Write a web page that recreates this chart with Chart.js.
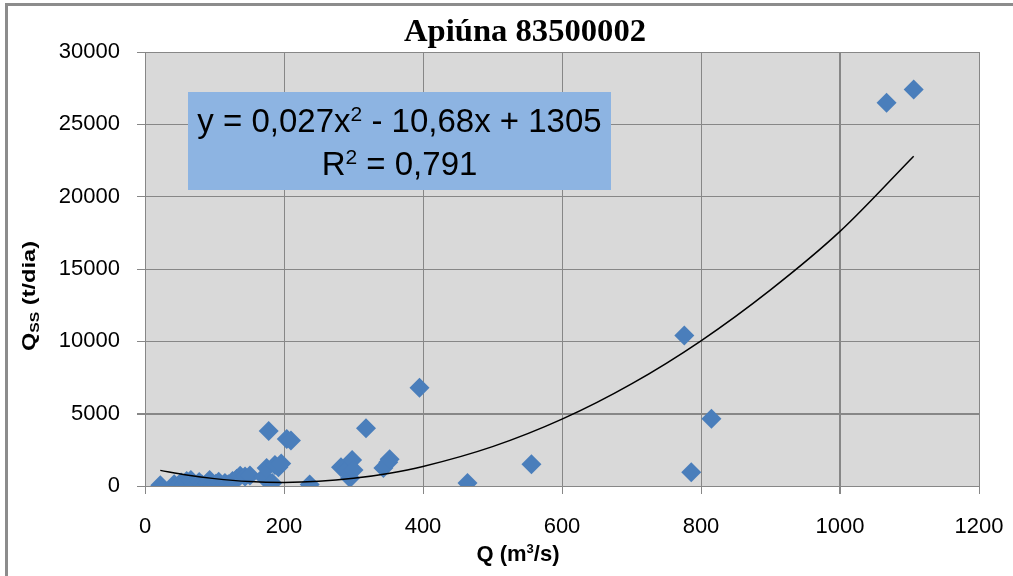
<!DOCTYPE html>
<html>
<head>
<meta charset="utf-8">
<script src="https://cdn.jsdelivr.net/npm/chart.js@4/dist/chart.umd.min.js"></script>
<style>
  html, body { margin: 0; padding: 0; background: #fff; }
  #wrap { width: 1013px; height: 576px; }
</style>
</head>
<body>
<div id="wrap"><canvas id="chart" width="1013" height="576"></canvas></div>
<script>
// Observed discharge Q (m3/s) and suspended sediment Qss (t/dia)
const Q_VALUES = [
  22, 42, 48, 52, 56, 60, 63, 66, 70, 74, 78, 82, 86, 90, 93, 97, 102, 106, 110, 115,
  120, 126, 132, 137, 144, 151,
  171, 175, 178, 183, 187, 192, 196, 204, 210, 237,
  282, 290, 295, 298, 300, 318, 343, 350, 352,
  395, 464, 556, 776, 786, 815, 1067, 1106
];
const QSS_VALUES = [
  50, 120, 40, 250, 100, 350, 30, 420, 150, 60, 280, 100, 30, 200, 420, 80, 150, 300, 50, 200,
  120, 350, 500, 700, 650, 720,
  620, 1250, 3800, 200, 1450, 1300, 1550, 3250, 3150, 100,
  1300, 1100, 550, 1800, 1100, 4000, 1250, 1650, 1850,
  6800, 200, 1500, 10400, 950, 4650, 26500, 27400
];

// polynomial trend line as it appears on the picture
const TREND_Q = [22, 60, 100, 150, 200, 250, 300, 350, 400, 500, 600, 700, 800, 900, 1000, 1106];
const TREND_QSS = [1080, 760, 510, 310, 250, 320, 530, 870, 1350, 2720, 4620, 7060, 10040, 13560, 17600, 22800];

const X_TICKS = [0, 200, 400, 600, 800, 1000, 1200];
const Y_TICKS = [0, 5000, 10000, 15000, 20000, 25000, 30000];

const TITLE = 'Apiúna 83500002';
const EQ_PART1 = 'y = 0,027x';
const EQ_SUP = '2';
const EQ_PART2 = ' - 10,68x + 1305';
const R2_PART1 = 'R';
const R2_SUP = '2';
const R2_PART2 = ' = 0,791';

const GRID = '#878787';
const POINT_BLUE = '#4a7ebb';

// draw a text made of pieces with optional superscript/subscript
function pieceWidths(ctx, pieces) {
  return pieces.map(p => { ctx.font = p.font; return ctx.measureText(p.text).width; });
}
function drawPieces(ctx, pieces, x, y) {
  const widths = pieceWidths(ctx, pieces);
  let cx = x;
  pieces.forEach((p, i) => {
    ctx.font = p.font;
    ctx.fillText(p.text, cx, y + (p.dy || 0));
    cx += widths[i];
  });
}

const decor = {
  id: 'decor',
  beforeDraw(chart) {
    const { ctx, chartArea: a } = chart;
    ctx.save();
    ctx.fillStyle = '#ffffff';
    ctx.fillRect(0, 0, chart.width, chart.height);
    // outer frame
    ctx.strokeStyle = '#8c8c8c';
    ctx.lineWidth = 3;
    ctx.strokeRect(6.5, 4.5, chart.width + 10, chart.height + 10);
    // plot area
    ctx.fillStyle = '#d9d9d9';
    ctx.fillRect(a.left, a.top, a.right - a.left, a.bottom - a.top);
    ctx.restore();
  },
  afterDraw(chart) {
    const { ctx } = chart;
    ctx.save();
    ctx.fillStyle = '#000';
    ctx.textBaseline = 'alphabetic';

    // title, squeezed to the original width
    ctx.font = 'bold 31px "Liberation Serif"';
    ctx.textAlign = 'left';
    const tw = ctx.measureText(TITLE).width;
    ctx.save();
    ctx.translate(525, 41);
    ctx.scale(242 / tw, 1);
    ctx.fillText(TITLE, -tw / 2, 0);
    ctx.restore();

    // equation box
    ctx.fillStyle = '#8db4e2';
    ctx.fillRect(188, 92, 423, 98);
    ctx.fillStyle = '#000';
    const big = '33px "Liberation Sans"';
    const sup = '21px "Liberation Sans"';
    const eq = [
      { text: EQ_PART1, font: big },
      { text: EQ_SUP, font: sup, dy: -11 },
      { text: EQ_PART2, font: big }
    ];
    const r2 = [
      { text: R2_PART1, font: big },
      { text: R2_SUP, font: sup, dy: -11 },
      { text: R2_PART2, font: big }
    ];
    const eqW = pieceWidths(ctx, eq).reduce((s, w) => s + w, 0);
    const r2W = pieceWidths(ctx, r2).reduce((s, w) => s + w, 0);
    drawPieces(ctx, eq, 399.5 - eqW / 2, 132);
    drawPieces(ctx, r2, 399.5 - r2W / 2, 175);

    // x axis title
    const xt = [
      { text: 'Q (m', font: 'bold 22px "Liberation Sans"' },
      { text: '3', font: 'bold 13px "Liberation Sans"', dy: -8 },
      { text: '/s)', font: 'bold 22px "Liberation Sans"' }
    ];
    const xtW = pieceWidths(ctx, xt).reduce((s, w) => s + w, 0);
    drawPieces(ctx, xt, 518 - xtW / 2, 561);

    // y axis title with subscript
    const yt = [
      { text: 'Q', font: 'bold 18px "Liberation Sans"' },
      { text: 'SS', font: 'bold 12px "Liberation Sans"', dy: 4 },
      { text: ' (t/dia)', font: 'bold 18px "Liberation Sans"' }
    ];
    const ytW = pieceWidths(ctx, yt).reduce((s, w) => s + w, 0);
    ctx.save();
    ctx.translate(35, 296);
    ctx.rotate(-Math.PI / 2);
    ctx.scale(110 / ytW, 1);
    drawPieces(ctx, yt, -ytW / 2, 0);
    ctx.restore();

    ctx.restore();
  }
};

const scatterData = Q_VALUES.map((q, i) => ({ x: q, y: QSS_VALUES[i] }));
const trendData = TREND_Q.map((q, i) => ({ x: q, y: TREND_QSS[i] }));

const tickFont = { family: 'Liberation Sans', size: 22 };

new Chart(document.getElementById('chart'), {
  type: 'scatter',
  data: {
    datasets: [
      {
        label: 'Trend',
        data: trendData,
        showLine: true,
        borderColor: '#000',
        borderWidth: 1.5,
        pointRadius: 0,
        cubicInterpolationMode: 'monotone',
        order: 0
      },
      {
        label: 'Qss',
        data: scatterData,
        pointStyle: 'rectRot',
        pointRadius: 10,
        backgroundColor: POINT_BLUE,
        borderColor: POINT_BLUE,
        borderWidth: 0,
        order: 1
      }
    ]
  },
  options: {
    responsive: false,
    animation: false,
    layout: { padding: { top: 52, right: 34, bottom: 0, left: 0 } },
    plugins: {
      legend: { display: false },
      tooltip: { enabled: false },
      title: { display: false }
    },
    scales: {
      x: {
        type: 'linear',
        min: 0,
        max: 1200,
        afterBuildTicks: s => { s.ticks = X_TICKS.map(v => ({ value: v })); },
        afterFit: s => { s.height = 90; s.paddingLeft = 0; s.paddingRight = 0; },
        grid: {
          color: GRID,
          lineWidth: c => (c.tick && c.tick.value === 1000 ? 2 : 1),
          tickLength: 8,
          tickColor: GRID
        },
        border: { color: GRID, width: 1 },
        ticks: {
          font: tickFont,
          color: '#000',
          padding: 20,
          maxRotation: 0,
          callback: v => String(v)
        }
      },
      y: {
        type: 'linear',
        min: 0,
        max: 30000,
        afterBuildTicks: s => { s.ticks = Y_TICKS.map(v => ({ value: v })); },
        afterFit: s => { s.width = 145; s.paddingTop = 0; s.paddingBottom = 0; },
        grid: {
          color: GRID,
          lineWidth: c => (c.tick && c.tick.value === 5000 ? 2 : 1),
          tickLength: 8,
          tickColor: GRID
        },
        border: { color: GRID, width: 1 },
        ticks: {
          font: tickFont,
          color: '#000',
          padding: 17,
          callback: v => String(v)
        }
      }
    }
  },
  plugins: [decor]
});
</script>
</body>
</html>
